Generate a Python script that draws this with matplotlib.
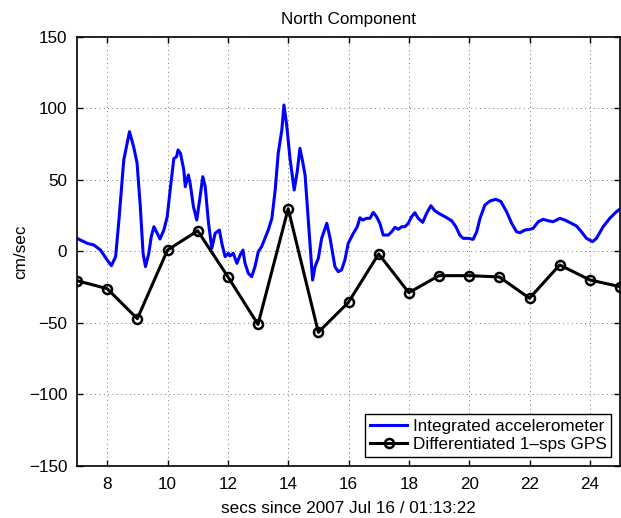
import matplotlib
matplotlib.use("Agg")
import matplotlib.pyplot as plt

plt.rcParams['font.family'] = ['Liberation Sans', 'DejaVu Sans']

# Differentiated 1-sps GPS (one sample per second)
gps_t = [7, 8, 9, 10, 11, 12, 13, 14, 15, 16, 17, 18, 19, 20, 21, 22, 23, 24, 25]
gps_v = [-20.4, -26, -47, 1, 14.5, -17.6, -51, 29.9, -56.5, -35.5, -1.7, -28.8,
         -16.9, -16.9, -17.8, -32.7, -9.4, -19.9, -24.6]

# Integrated accelerometer
acc_t = [7.0, 7.34, 7.56, 7.78, 8.0, 8.14, 8.28, 8.39, 8.55, 8.74, 8.88, 8.99,
         9.10, 9.19, 9.27, 9.38, 9.46, 9.55, 9.66, 9.75, 9.88, 9.99, 10.10,
         10.21, 10.30, 10.35, 10.43, 10.54, 10.59, 10.69, 10.75, 10.86, 10.97,
         11.08, 11.17, 11.25, 11.36, 11.47, 11.58, 11.72, 11.80, 11.91, 12.02,
         12.07, 12.18, 12.30, 12.41, 12.50, 12.57, 12.68, 12.79, 12.90, 13.01,
         13.12, 13.23, 13.34, 13.46, 13.57, 13.67, 13.79, 13.86, 13.95, 14.06,
         14.20, 14.30, 14.39, 14.48, 14.56, 14.67, 14.75, 14.81, 14.89, 15.0,
         15.11, 15.28, 15.39, 15.55, 15.66, 15.77, 15.88, 15.99, 16.16, 16.29,
         16.38, 16.47, 16.60, 16.71, 16.82, 16.93, 17.04, 17.15, 17.32, 17.43,
         17.54, 17.65, 17.76, 17.87, 17.98, 18.09, 18.20, 18.31, 18.46, 18.59,
         18.73, 18.86, 19.03, 19.20, 19.42, 19.56, 19.69, 19.80, 19.97, 20.13,
         20.25, 20.36, 20.52, 20.69, 20.88, 21.05, 21.24, 21.41, 21.57, 21.68,
         21.85, 22.01, 22.12, 22.29, 22.45, 22.62, 22.78, 23.01, 23.17, 23.39,
         23.56, 23.72, 23.89, 24.09, 24.22, 24.44, 24.66, 24.88, 24.99]
acc_v = [9.2, 5.7, 4.5, 1, -6, -9.9, -3.6, 22, 64, 83.8, 73, 62,
         31, -1.3, -10.6, -1.3, 10.3, 17.3, 12.7, 8.7, 15, 24.3, 45.3,
         65, 66.3, 71, 68.7, 57, 45.3, 53.5, 47.7, 31.3, 22,
         38.3, 52.3, 45.3, 19.7, 2.2, 12.7, 15, 5.7, -3.6, -1.3,
         -3.1, -1.3, -8.3, -2.4, 1, -8.3, -15.3, -17.6, -10.6, -0.1,
         3.4, 9.2, 15, 23.2, 43, 68.7, 85, 102.4, 88.5, 65.2,
         43, 55.8, 72.2, 62.8, 53.5, 20.8, -2.4, -20, -10.6, -4.8,
         9.2, 19.7, 9.2, -10.6, -14.1, -12.9, -6, 5.7, 12.7, 17.3,
         23.6, 22, 23.2, 23.2, 27.4, 24.3, 19.7, 11.5, 11.5, 13.8,
         16.9, 15.5, 17.3, 17.3, 19.7, 24.3, 27.1, 23.2, 20.4, 26.7,
         32, 28.5, 26.2, 24.3, 21.5, 17.3, 11.5, 9.2, 9.2, 8.5,
         13.8, 23.2, 32.5, 35.3, 36.5, 35, 27.8, 19.7, 13.8, 13.1,
         15, 15.5, 16.2, 20.8, 22.5, 21.5, 20.8, 23.2, 22, 19.7,
         17.8, 13.8, 9.2, 6.9, 9.2, 17.3, 23.2, 27.8, 29.5]

xticks = [8, 10, 12, 14, 16, 18, 20, 22, 24]
yticks = [-150, -100, -50, 0, 50, 100, 150]

FS = 12.3

fig = plt.figure(figsize=(6.21, 5.18), dpi=100)
ax = fig.add_axes([0.124, 0.1004, 0.8744, 0.8282])

ax.plot(acc_t, acc_v, color='#0000ff', lw=2.2, label='Integrated accelerometer',
        solid_joinstyle='round')
ax.plot(gps_t, gps_v, color='black', lw=2.2, marker='o', markersize=6.5,
        markerfacecolor='none', markeredgewidth=1.8, label='Differentiated 1\u2013sps GPS')

ax.set_xlim(7, 25)
ax.set_ylim(-150, 150)
ax.set_xticks(xticks)
ax.set_yticks(yticks)
ax.tick_params(direction='in', top=True, right=True, labelsize=FS, length=4, width=1)
ax.tick_params(axis='x', pad=8)
ax.tick_params(axis='y', pad=7)
ax.grid(True, linestyle=(0, (1, 3.5)), color='0.45', linewidth=0.7)
for s in ax.spines.values():
    s.set_linewidth(1.2)

ax.set_title('North Component', fontsize=FS, pad=9)
ax.set_xlabel('secs since 2007 Jul 16 / 01:13:22', fontsize=FS, labelpad=6.5)
ax.set_ylabel('cm/sec', fontsize=FS, labelpad=0.5)

leg = ax.legend(loc='lower right', numpoints=1, fontsize=FS, fancybox=False,
                edgecolor='black', framealpha=1, borderpad=0.3, handlelength=2.2,
                handletextpad=0.3, labelspacing=0.2, borderaxespad=0.5)
leg.get_frame().set_linewidth(1.0)

fig.savefig('out.png', dpi=100)
